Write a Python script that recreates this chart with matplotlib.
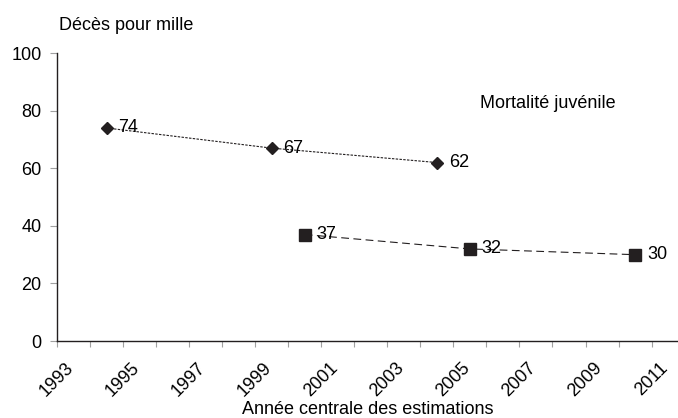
import matplotlib
matplotlib.use("Agg")
import matplotlib.pyplot as plt
import matplotlib.transforms as mtransforms
from matplotlib.ticker import MultipleLocator

plt.rcParams['font.family'] = ['Liberation Sans', 'DejaVu Sans']

# Mortalité juvénile - two survey series
years_a = [1994.5, 1999.5, 2004.5]
values_a = [74, 67, 62]
years_b = [2000.5, 2005.5, 2010.5]
values_b = [37, 32, 30]
year_ticks = list(range(1993, 2012, 2))
y_ticks = [0, 20, 40, 60, 80, 100]

ink = '#231f20'
fs = 13

fig = plt.figure(figsize=(6.78, 4.18), dpi=100)
ax = fig.add_axes([0.084, 0.184, 0.916, 0.689])

ax.plot(years_a, values_a, color=ink, lw=0.8, dashes=(2.2, 1.2),
        marker='D', markersize=6.5, markerfacecolor=ink, markeredgecolor=ink)
ax.plot(years_b, values_b, color=ink, lw=0.8, dashes=(7, 4),
        marker='s', markersize=8, markerfacecolor=ink, markeredgecolor=ink)

for x, v in zip(years_a + years_b, values_a + values_b):
    ax.annotate(str(v), (x, v), xytext=(8.5, 0), textcoords='offset points',
                va='center', ha='left', fontsize=fs, color='black')

ax.text(2007.85, 82.6, 'Mortalité juvénile', fontsize=fs, ha='center', va='center')

ax.set_xlim(1993, 2011.8)
ax.set_ylim(0, 100)
ax.set_xticks(year_ticks)
ax.xaxis.set_minor_locator(MultipleLocator(1))
ax.set_xticklabels([str(y) for y in year_ticks], rotation=45, ha='center', fontsize=fs)
# nudge the rotated year labels slightly right, like the original
shift = mtransforms.ScaledTranslation(3 / 72, 0, fig.dpi_scale_trans)
for lbl in ax.get_xticklabels():
    lbl.set_transform(lbl.get_transform() + shift)
ax.set_yticks(y_ticks)
ax.set_yticklabels([str(y) for y in y_ticks], fontsize=fs)

for s in ['top', 'right']:
    ax.spines[s].set_visible(False)
for s in ['left', 'bottom']:
    ax.spines[s].set_color(ink)
    ax.spines[s].set_linewidth(1.0)

ax.tick_params(axis='both', which='both', direction='out', color='#a0a0a0', width=0.8)
ax.tick_params(axis='x', which='both', length=4, pad=9)
ax.tick_params(axis='y', length=5, pad=6)

fig.text(0.087, 0.94, 'Décès pour mille', fontsize=fs, ha='left', va='center')
ax.set_xlabel('Année centrale des estimations', fontsize=fs, labelpad=1)

fig.savefig('out.png', dpi=100)
